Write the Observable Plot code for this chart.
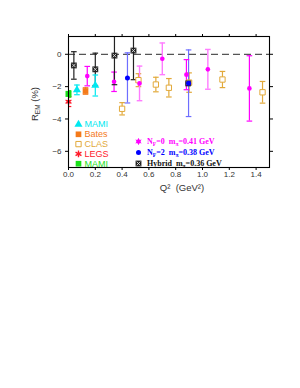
<!DOCTYPE html>
<html><head><meta charset="utf-8">
<script src="https://cdn.jsdelivr.net/npm/d3@7"></script>
<script src="https://cdn.jsdelivr.net/npm/@observablehq/plot@0.6"></script>
<style>body{margin:0;background:#fff;} #chart svg{display:block;}</style>
</head><body><div id="chart"></div>
<script>
// ---- data ----
const xTicks = [0, 0.2, 0.4, 0.6, 0.8, 1.0, 1.2, 1.4];
const yTicks = [-6, -4, -2, 0];

// MAMI (cyan triangles)
const mamiQ2 = [0.063, 0.20];
const mamiR = [-2.20, -1.93];
const mamiErr = [0.30, 0.65];
// Bates
const batesQ2 = [0.127];
const batesR = [-2.27];
const batesErr = [0.20];
// CLAS
const clasQ2 = [0.40, 0.522, 0.652, 0.749, 0.90, 1.149, 1.448];
const clasR = [-3.37, -1.60, -1.87, -2.07, -1.75, -1.56, -2.35];
const clasErr = [0.38, 0.40, 0.45, 0.57, 0.60, 0.50, 0.67];
// LEGS
const legsQ2 = [0.0];
const legsR = [-2.93];
const legsErr = [0.30];
// MAMI (green)
const mami2Q2 = [0.0];
const mami2R = [-2.45];
const mami2Err = [0.20];
// Lattice Nf=0 (magenta)
const nf0Q2 = [0.14, 0.34, 0.88, 1.35];
const nf0R = [-1.35, -1.70, -1.26, -2.11];
const nf0Err = [0.60, 0.60, 0.93, 2.02];
const nf0bQ2 = [0.53, 0.70, 1.04];
const nf0bR = [-1.80, -0.28, -0.93];
const nf0bErr = [1.07, 0.98, 1.23];
// Lattice Nf=2 (blue)
const nf2Q2 = [0.44, 0.896];
const nf2R = [-1.46, -1.79];
const nf2Err = [1.55, 2.06];
// Hybrid
const hybQ2 = [0.04, 0.20, 0.343, 0.485, 0.893];
const hybR = [-0.69, -0.93, -0.08, 0.23, -1.80];
const hybErr = [0.85, 1.00, 1.80, 1.80, 0.0];

const leftLegend = ["MAMI", "Bates", "CLAS", "LEGS", "MAMI"];

// ---- helpers ----
const rows = (xs, ys, es) => xs.map((x, i) => ({x, y: ys[i], e: es[i]}));
const cap = {draw(ctx, size) { const w = Math.sqrt(size / Math.PI); ctx.moveTo(-w, 0); ctx.lineTo(w, 0); }};

function errorBars(data, stroke, sw = 1.2) {
  const d = data.filter(r => r.e > 0);
  return [
    Plot.ruleX(d, {x: "x", y1: r => r.y - r.e, y2: r => r.y + r.e, stroke, strokeWidth: sw, clip: true}),
    Plot.dot(d, {x: "x", y: r => r.y + r.e, symbol: cap, r: 2.8, stroke, strokeWidth: sw, clip: true}),
    Plot.dot(d, {x: "x", y: r => r.y - r.e, symbol: cap, r: 2.8, stroke, strokeWidth: sw, clip: true})
  ];
}

const C = {cyan: "#00e8f0", bates: "#f47a1a", clas: "#e2a93a", legs: "#ff1a2a", green: "#18e018",
           mag: "#ff00ff", magLight: "#ff7cff", blue: "#0000ff", blueLight: "#6e6eff", hyb: "#222"};

const mami = rows(mamiQ2, mamiR, mamiErr);
const bates = rows(batesQ2, batesR, batesErr);
const clas = rows(clasQ2, clasR, clasErr);
const legs = rows(legsQ2, legsR, legsErr);
const mami2 = rows(mami2Q2, mami2R, mami2Err);
const nf0 = rows(nf0Q2, nf0R, nf0Err);
const nf0b = rows(nf0bQ2, nf0bR, nf0bErr);
const nf2 = rows(nf2Q2, nf2R, nf2Err);
const hyb = rows(hybQ2, hybR, hybErr);

const legendMarks = [];
const legendSyms = [
  {symbol: "triangle", fill: C.cyan, r: 3},
  {symbol: "square", fill: C.bates, r: 3.2},
  {symbol: "square", fill: "none", stroke: C.clas, r: 3, strokeWidth: 1},
  {symbol: "asterisk", fill: "none", stroke: C.legs, r: 3.2, strokeWidth: 1.4},
  {symbol: "square", fill: C.green, r: 3.2}
];
const legendColors = [C.cyan, C.bates, C.clas, C.legs, C.green];
leftLegend.forEach((t, i) => {
  const dy = 88 + i * 9.8;
  legendMarks.push(Plot.dot([t], {frameAnchor: "top-left", dx: 10, dy, ...legendSyms[i]}));
  legendMarks.push(Plot.text([t], {frameAnchor: "top-left", dx: 16, dy, text: d => d, textAnchor: "start",
    lineAnchor: "middle", fill: legendColors[i], fontSize: 9, fontFamily: "Liberation Sans, Arial, sans-serif"}));
});
// right legend markers
const rl = [105, 116, 127];
legendMarks.push(Plot.dot(["a"], {frameAnchor: "top-left", dx: 70, dy: rl[0], r: 2.2, fill: C.mag}));
legendMarks.push(Plot.dot(["a"], {frameAnchor: "top-left", dx: 70, dy: rl[0], r: 3, symbol: "asterisk", stroke: C.mag, strokeWidth: 1}));
legendMarks.push(Plot.dot(["b"], {frameAnchor: "top-left", dx: 70, dy: rl[1], r: 2.5, fill: C.blue}));
legendMarks.push(Plot.dot(["c"], {frameAnchor: "top-left", dx: 70, dy: rl[2], r: 3.3, symbol: "square", fill: C.hyb}));
legendMarks.push(Plot.dot(["c"], {frameAnchor: "top-left", dx: 70, dy: rl[2], r: 1.8, symbol: "times", stroke: "#ddd", strokeWidth: 0.9}));

const plot = Plot.plot({
  width: 300, height: 388,
  marginLeft: 68, marginRight: 31, marginTop: 36, marginBottom: 221,
  x: {domain: [0, 1.5]},
  y: {domain: [-7, 1.1]},
  style: {fontFamily: "Liberation Sans, Arial, sans-serif", background: "white"},
  marks: [
    Plot.ruleY([0], {stroke: "#555", strokeWidth: 1.3, strokeDasharray: "7,4"}),
    ...errorBars(clas, C.clas),
    ...errorBars(nf2, C.blueLight),
    ...errorBars(nf0b, C.magLight, 1.4),
    ...errorBars(nf0, C.mag),
    ...errorBars(hyb, C.hyb),
    ...errorBars(mami, C.cyan),
    ...errorBars(bates, C.bates),
    ...errorBars(legs, C.legs),
    ...errorBars(mami2, C.green),
    Plot.dot(clas, {x: "x", y: "y", symbol: "square", r: 3, stroke: C.clas, fill: "white", strokeWidth: 1}),
    Plot.dot(hyb, {x: "x", y: "y", symbol: "square", r: 3.3, fill: C.hyb}),
    Plot.dot(hyb, {x: "x", y: "y", symbol: "times", r: 1.8, stroke: "#ddd", strokeWidth: 0.9}),
    Plot.dot(nf2, {x: "x", y: "y", r: 2.5, fill: C.blue}),
    Plot.dot(nf0.concat(nf0b), {x: "x", y: "y", r: 2.3, fill: C.mag}),
    Plot.dot(mami, {x: "x", y: "y", symbol: "triangle", r: 3, fill: C.cyan}),
    Plot.dot(bates, {x: "x", y: "y", symbol: "square", r: 3.2, fill: C.bates}),
    Plot.dot(mami2, {x: "x", y: "y", symbol: "square", r: 3.4, fill: C.green}),
    Plot.dot(legs, {x: "x", y: "y", r: 2, fill: C.legs}),
    Plot.dot(legs, {x: "x", y: "y", symbol: "asterisk", r: 3.2, stroke: C.legs, strokeWidth: 1.2}),
    ...legendMarks,
    Plot.axisX(xTicks, {anchor: "bottom", tickSize: 3, tickPadding: 1, tickFormat: d => d.toFixed(1), fontSize: 8, fill: "#333", label: null}),
    Plot.axisX(xTicks, {anchor: "top", tickSize: 3, tickFormat: () => "", label: null}),
    Plot.axisY(yTicks, {anchor: "left", tickSize: 3, tickPadding: 4, fontSize: 8, fill: "#333", label: null}),
    Plot.axisY(yTicks, {anchor: "right", tickSize: 3, tickFormat: () => "", label: null}),
    Plot.frame({stroke: "black", strokeWidth: 1.1})
  ]
});
document.getElementById("chart").appendChild(plot);

// titles and right legend text with subscripts
const svg = d3.select(plot);
svg.append("text").attr("x", 182).attr("y", 191).attr("text-anchor", "middle")
  .attr("font-size", 9.5).attr("fill", "#333").attr("font-family", "Liberation Sans, Arial, sans-serif")
  .text("Q\u00B2\u00A0 (GeV\u00B2)");
const yl = svg.append("text").attr("transform", "translate(38,104) rotate(-90)").attr("text-anchor", "middle")
  .attr("font-size", 9.5).attr("fill", "#333").attr("font-family", "Liberation Sans, Arial, sans-serif");
yl.append("tspan").text("R");
yl.append("tspan").attr("font-size", 6.5).attr("dy", 2).text("EM");
yl.append("tspan").attr("dy", -2).text(" (%)");

const rlText = [
  {nf: "0", m: "0.41", color: "#ff00ff"},
  {nf: "2", m: "0.38", color: "#0000ff"}
];
const fx = 68 + 79, fy = 36;
rlText.forEach((d, i) => {
  const t = svg.append("text").attr("x", fx).attr("y", fy + rl[i] + 3).attr("font-size", 8).attr("font-weight", "bold")
    .attr("text-anchor", "start").attr("fill", d.color).attr("font-family", "Liberation Serif, Times New Roman, serif");
  t.append("tspan").text("N");
  t.append("tspan").attr("font-size", 5.5).attr("dy", 2).text("F");
  t.append("tspan").attr("dy", -2).text("=" + d.nf + "\u00A0 m");
  t.append("tspan").attr("font-size", 5.5).attr("dy", 2).text("\u03C0");
  t.append("tspan").attr("dy", -2).text("=" + d.m + " GeV");
});
const th = svg.append("text").attr("x", fx).attr("y", fy + rl[2] + 3).attr("font-size", 8).attr("font-weight", "bold")
  .attr("text-anchor", "start").attr("fill", "#111").attr("font-family", "Liberation Serif, Times New Roman, serif");
th.append("tspan").text("Hybrid\u00A0 m");
th.append("tspan").attr("font-size", 5.5).attr("dy", 2).text("\u03C0");
th.append("tspan").attr("dy", -2).text("=0.36 GeV");
</script>
</body></html>
